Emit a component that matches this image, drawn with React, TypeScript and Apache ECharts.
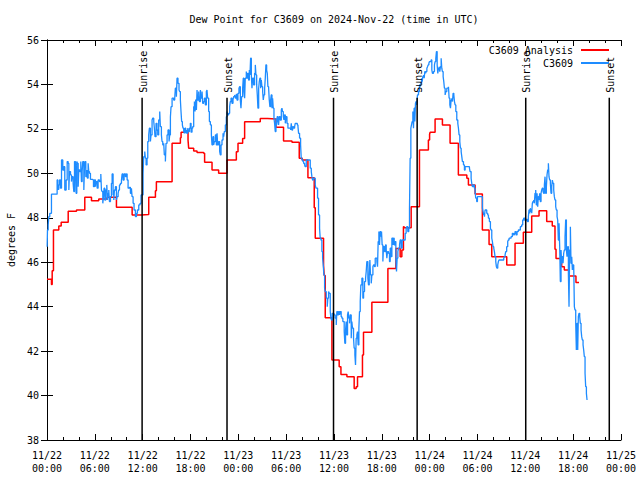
import React, { useEffect, useRef } from "react";
import * as echarts from "echarts";

const FONT = "'DejaVu Sans Mono', 'Liberation Mono', monospace";
const titleText = "Dew Point for C3609 on 2024-Nov-22 (time in UTC)";
const yAxisName = "degrees F";
const yMin = 38;
const yMax = 56;
const yStep = 2;
const xMinHours = 0;
const xMaxHours = 72;
const xStepHours = 6;
const startMonth = 11;
const startDay = 22;
const analysisName = "C3609 Analysis";
const observedName = "C3609";
const eventHours = [11.93, 22.58, 35.94, 46.43, 60.05, 70.53];
const eventLabels = ["Sunrise", "Sunset", "Sunrise", "Sunset", "Sunrise", "Sunset"];
const eventLineTop = 53.4;
const RED = "#ff0000";
const BLUE = "#1e8cff";

// [hours since 2024-11-22 00:00 UTC, dew point F]
const analysis: [number, number][] = [
  [0.0, 45.23], [0.56, 45.0], [0.65, 45.62], [0.81, 47.45], [1.48, 47.63], [1.78, 47.8], [2.66, 48.29], [3.7, 48.35],
  [4.74, 48.92], [5.58, 48.77], [6.49, 48.85], [7.54, 48.92], [8.71, 48.47], [10.68, 48.13], [11.8, 48.15], [12.76, 48.92],
  [13.6, 49.22], [13.72, 49.62], [15.69, 51.35], [16.73, 51.6], [16.82, 51.85], [17.69, 51.5], [17.77, 51.13], [18.4, 51.0],
  [18.82, 50.94], [19.65, 50.9], [19.77, 50.5], [20.7, 50.15], [21.53, 50.0], [22.58, 50.6], [23.75, 50.97], [23.96, 51.35],
  [24.54, 51.57], [24.79, 52.32], [26.75, 52.47], [27.67, 52.45], [28.72, 52.07], [29.67, 51.45], [30.73, 51.4], [31.64, 50.68],
  [32.02, 50.6], [32.73, 49.8], [33.52, 48.45], [33.65, 47.08], [34.69, 45.87], [34.77, 45.4], [34.9, 43.5], [35.74, 41.6],
  [36.65, 41.3], [36.87, 40.95], [37.62, 40.85], [38.53, 40.32], [38.78, 40.4], [38.95, 40.85], [39.57, 41.82], [39.7, 42.85],
  [40.75, 44.2], [42.76, 45.72], [43.76, 46.62], [44.3, 46.25], [44.51, 46.55], [44.71, 47.6], [44.8, 47.55], [45.68, 48.5],
  [46.72, 51.05], [47.84, 51.5], [47.99, 51.76], [48.06, 51.85], [48.68, 52.45], [49.6, 52.18], [50.56, 51.35], [51.6, 49.92],
  [52.66, 49.78], [52.86, 49.47], [53.7, 49.07], [54.61, 47.45], [55.45, 46.8], [55.79, 46.25], [57.67, 45.87], [58.71, 46.85],
  [59.75, 47.35], [60.8, 48.08], [61.72, 48.32], [62.68, 47.83], [63.38, 47.63], [63.72, 46.58], [63.85, 46.17], [64.56, 45.8],
  [64.89, 45.65], [65.51, 45.38], [66.35, 45.09], [66.73, 45.09],
];

const observed: [number, number][] = [
  [0.02, 46.7], [0.06, 47.45], [0.15, 47.68], [0.23, 48.05], [0.35, 48.2], [0.56, 49.06], [1.27, 49.7], [1.36, 49.28], [1.48, 49.48],
  [1.57, 49.7], [1.69, 49.33], [1.82, 50.6], [1.98, 50.15], [2.11, 50.3], [2.23, 49.25], [2.4, 49.7], [2.53, 50.53], [2.65, 50.45],
  [2.74, 49.25], [2.82, 50.08], [2.95, 49.93], [3.07, 49.63], [3.15, 49.85], [3.28, 49.55], [3.36, 49.18], [3.45, 50.53], [3.57, 50.38],
  [3.65, 49.1], [3.74, 50.53], [3.82, 50.45], [3.91, 49.4], [3.99, 50.15], [4.11, 50.08], [4.24, 50.53], [4.32, 49.63], [4.41, 50.08],
  [4.49, 50.53], [4.62, 49.25], [4.7, 50.23], [4.78, 50.53], [4.87, 49.85], [4.99, 50.15], [5.07, 49.78], [5.16, 50.45], [5.24, 50.08],
  [5.33, 50.0], [5.45, 49.73], [5.7, 49.7], [5.83, 49.4], [5.95, 49.7], [6.08, 49.4], [6.16, 49.63], [6.29, 49.33], [6.41, 49.7],
  [6.58, 49.63], [6.75, 49.97], [6.83, 49.25], [6.91, 49.18], [7.0, 48.65], [7.08, 48.95], [7.16, 49.33], [7.25, 48.8], [7.37, 49.25],
  [7.5, 49.48], [7.58, 48.8], [7.66, 49.1], [7.75, 49.25], [7.83, 48.73], [7.96, 48.95], [8.08, 49.55], [8.17, 49.97], [8.29, 49.03],
  [8.38, 48.8], [8.46, 49.25], [8.58, 49.4], [8.71, 48.8], [8.79, 48.95], [8.92, 49.1], [9.0, 49.25], [9.09, 49.48], [9.21, 49.55],
  [9.34, 49.7], [9.42, 49.97], [9.54, 49.7], [9.67, 49.97], [9.84, 49.85], [9.96, 49.97], [10.05, 49.7], [10.17, 49.33], [10.34, 49.37],
  [10.46, 49.1], [10.59, 49.33], [10.67, 48.95], [10.8, 48.65], [10.92, 48.35], [11.09, 48.05], [11.22, 48.2], [11.34, 48.35],
  [11.51, 48.58], [11.67, 48.65], [11.8, 49.03], [12.05, 50.0], [12.13, 50.75], [12.26, 50.98],
  [12.34, 50.68], [12.43, 50.38], [12.55, 50.68], [12.64, 51.43], [12.76, 51.73], [12.84, 52.03], [12.97, 51.43], [13.05, 51.73],
  [13.18, 52.4], [13.26, 52.48], [13.39, 52.33], [13.47, 52.03], [13.55, 51.65], [13.68, 52.25], [13.8, 51.95], [13.89, 51.73],
  [14.01, 52.4], [14.14, 52.78], [14.22, 52.1], [14.35, 51.73], [14.43, 51.43], [14.52, 51.28], [14.64, 51.35], [14.72, 50.83],
  [14.85, 50.53], [14.93, 51.35], [15.06, 51.73], [15.18, 51.95], [15.31, 51.43], [15.39, 51.73], [15.48, 52.55], [15.56, 53.0],
  [15.69, 53.38], [15.89, 53.3], [16.02, 53.38], [16.1, 53.83], [16.23, 53.45], [16.31, 54.28], [16.43, 54.05], [16.56, 53.75],
  [16.64, 53.68], [16.73, 53.3], [16.81, 52.78], [16.89, 52.33], [16.98, 52.18], [17.06, 52.03], [17.15, 51.88], [17.23, 51.8],
  [17.31, 52.03], [17.4, 51.8], [17.48, 51.95], [17.56, 51.8], [17.65, 52.03], [17.73, 51.88], [17.86, 52.03], [17.98, 52.25],
  [18.07, 51.85], [18.19, 52.03], [18.28, 52.1], [18.4, 53.0], [18.49, 53.23], [18.57, 52.78], [18.65, 53.3], [18.74, 52.85],
  [18.82, 53.75], [18.9, 53.3], [19.03, 53.68], [19.11, 53.23], [19.24, 53.75], [19.32, 53.38], [19.45, 53.68], [19.53, 53.15],
  [19.65, 53.23], [19.74, 53.38], [19.86, 53.08], [19.99, 53.68], [20.07, 53.75], [20.15, 53.38], [20.28, 52.78], [20.37, 52.33],
  [20.49, 52.18], [20.62, 51.73], [20.7, 51.28], [20.82, 51.65], [20.91, 51.28], [20.99, 51.43], [21.12, 51.73], [21.24, 51.28],
  [21.33, 51.8], [21.41, 51.28], [21.53, 51.43], [21.66, 50.98], [21.74, 50.83], [21.83, 51.28], [21.95, 51.5], [22.08, 51.8],
  [22.16, 51.65], [22.24, 51.88], [22.37, 52.18], [22.49, 52.55], [22.58, 52.78], [22.66, 52.63], [22.79, 52.7], [22.91, 53.0],
  [22.99, 53.23], [23.08, 53.38], [23.2, 53.15], [23.33, 53.3], [23.41, 53.45], [23.54, 53.53], [23.62, 53.38], [23.74, 53.55],
  [23.83, 53.3], [23.95, 53.6], [24.08, 53.83],
  [24.16, 53.9], [24.25, 53.3], [24.33, 52.93], [24.41, 53.45], [24.54, 53.83], [24.62, 54.28], [24.71, 53.68], [24.79, 53.38],
  [24.87, 54.28], [25.0, 54.58], [25.08, 54.28], [25.17, 54.5], [25.29, 54.2], [25.38, 54.65], [25.46, 54.43], [25.54, 55.18],
  [25.63, 54.43], [25.71, 53.83], [25.79, 54.28], [25.92, 53.98], [26.04, 54.5], [26.13, 54.88], [26.21, 54.43], [26.3, 53.98],
  [26.38, 53.53], [26.46, 52.93], [26.55, 53.83], [26.63, 54.13], [26.71, 54.28], [26.8, 53.83], [26.88, 54.2], [26.96, 53.9],
  [27.05, 53.68], [27.13, 53.3], [27.21, 53.53], [27.3, 53.83], [27.38, 54.28], [27.46, 54.88], [27.55, 54.65], [27.63, 54.5],
  [27.71, 53.9], [27.8, 53.83], [27.88, 53.3], [27.96, 53.0], [28.05, 53.3], [28.13, 53.53], [28.22, 52.93], [28.3, 53.38],
  [28.38, 52.93], [28.47, 52.48], [28.55, 52.25], [28.63, 51.88], [28.72, 52.48], [28.8, 52.18], [28.88, 52.55], [28.97, 52.4],
  [29.05, 52.18], [29.13, 52.55], [29.26, 52.4], [29.39, 52.85], [29.47, 52.93], [29.55, 52.78], [29.64, 52.55], [29.72, 52.4],
  [29.8, 52.63], [29.89, 52.25], [29.97, 52.55], [30.1, 52.25], [30.22, 52.03], [30.56, 51.95], [30.64, 52.25], [30.72, 51.95],
  [30.81, 52.1], [30.93, 52.03], [31.06, 52.1], [31.14, 52.25], [31.39, 52.18], [31.48, 52.1], [31.56, 51.8], [31.68, 51.58],
  [31.81, 51.28], [31.89, 50.68], [31.98, 50.6], [32.1, 50.53], [32.19, 50.45], [32.31, 50.38], [32.39, 50.3], [32.52, 50.6],
  [32.9, 50.6], [33.02, 50.23], [33.15, 50.08], [33.23, 49.85], [33.31, 49.7], [33.4, 49.78], [33.65, 49.48], [33.73, 49.33],
  [33.94, 48.88], [34.06, 48.13], [34.19, 47.53], [34.27, 47.08], [34.36, 47.0], [34.48, 46.48], [34.57, 46.18], [34.65, 45.88],
  [34.73, 45.43], [34.82, 44.83], [34.9, 44.68], [35.03, 44.38], [35.15, 44.0], [35.23, 44.38], [35.32, 44.68], [35.4, 44.6],
  [35.53, 43.78], [35.61, 43.48], [35.69, 43.4], [35.78, 43.7], [35.99, 43.63],
  [36.07, 43.63], [36.15, 43.48], [36.28, 43.18], [36.36, 43.78], [36.45, 43.63], [36.57, 43.78], [36.7, 43.63], [36.78, 43.78],
  [36.9, 43.55], [36.99, 43.48], [37.11, 43.33], [37.28, 42.88], [37.36, 42.35], [37.45, 42.95], [37.53, 43.33], [37.61, 42.73],
  [37.7, 43.63], [37.78, 43.78], [37.86, 43.48], [37.95, 43.25], [38.03, 43.63], [38.16, 42.58], [38.24, 43.33], [38.32, 43.03],
  [38.45, 42.58], [38.53, 42.13], [38.62, 41.83], [38.7, 41.38], [38.78, 42.58], [38.87, 42.73], [38.95, 42.88], [39.03, 42.28],
  [39.12, 43.03], [39.2, 43.78], [39.29, 44.23], [39.37, 44.98], [39.5, 45.28], [39.62, 44.38], [39.71, 44.68], [39.83, 45.13],
  [39.96, 45.28], [40.04, 45.58], [40.12, 46.03], [40.25, 45.28], [40.33, 44.98], [40.42, 45.43], [40.5, 46.1], [40.58, 45.43],
  [40.67, 45.05], [40.75, 45.43], [40.88, 45.8], [40.96, 45.88], [41.08, 45.8], [41.17, 46.18], [41.38, 46.03], [41.46, 45.8],
  [41.54, 46.93], [41.63, 47.38], [41.71, 46.78], [41.79, 47.38], [41.88, 47.15], [41.96, 47.38], [42.04, 46.78], [42.13, 46.03],
  [42.21, 46.7], [42.34, 46.48], [42.46, 46.78], [42.55, 46.55], [42.63, 46.18], [42.71, 46.48], [42.84, 46.4], [42.96, 46.03],
  [43.05, 46.63], [43.17, 46.25], [43.26, 47.08], [43.38, 46.78], [43.46, 47.08], [43.55, 46.78], [43.67, 46.93], [43.76, 46.18],
  [43.84, 45.58], [43.92, 46.18], [44.01, 46.48], [44.09, 46.63], [44.22, 46.78], [44.3, 47.0], [44.42, 46.63], [44.55, 47.0],
  [44.93, 47.3], [45.05, 47.53], [45.13, 47.6], [45.26, 47.38], [45.38, 47.53], [45.47, 48.43], [45.55, 50.68], [45.64, 52.03],
  [45.72, 52.18], [45.8, 52.33], [45.89, 52.78], [45.97, 52.03], [46.05, 52.93], [46.14, 52.33], [46.22, 53.15], [46.3, 53.23],
  [46.39, 53.08], [46.47, 53.53], [46.6, 53.68], [46.72, 53.98], [46.81, 53.9], [46.89, 54.05], [46.98, 54.28], [47.06, 54.13],
  [47.14, 54.35], [47.23, 54.43], [47.31, 54.28], [47.39, 54.58], [47.48, 54.5], [47.56, 54.58], [47.65, 54.73], [47.73, 54.8],
  [47.81, 54.88], [47.9, 54.95], [47.98, 55.03],
  [48.06, 55.03], [48.18, 55.1], [48.27, 54.65], [48.35, 54.5], [48.48, 54.58], [48.6, 54.88], [48.68, 55.03], [48.77, 55.18],
  [48.85, 55.48], [48.94, 54.88], [49.02, 54.5], [49.1, 54.73], [49.19, 54.8], [49.27, 54.58], [49.35, 54.8], [49.44, 55.18],
  [49.52, 54.73], [49.6, 54.58], [49.69, 54.35], [49.77, 54.13], [49.85, 53.83], [49.94, 53.53], [50.02, 53.68], [50.15, 53.83],
  [50.36, 53.9], [50.44, 53.38], [50.53, 53.08], [50.61, 52.93], [50.69, 53.3], [50.78, 53.38], [50.86, 53.23], [50.94, 53.6],
  [51.03, 53.53], [51.11, 53.23], [51.19, 53.08], [51.28, 52.78], [51.4, 52.4], [51.53, 52.25], [51.61, 52.03], [51.69, 51.73],
  [51.78, 51.43], [51.86, 51.13], [51.95, 50.98], [52.03, 50.75], [52.11, 50.53], [52.24, 50.38], [52.36, 50.15], [52.45, 50.3],
  [52.99, 50.23], [53.07, 50.08], [53.2, 49.78], [53.28, 49.55], [53.36, 49.4], [53.49, 49.48], [53.61, 49.33], [53.7, 49.18],
  [53.78, 48.88], [53.9, 48.73], [53.99, 48.95], [54.53, 48.95], [54.62, 48.43], [54.7, 48.28], [54.78, 48.13], [54.87, 48.05],
  [54.95, 48.35], [55.16, 48.2], [55.28, 48.13], [55.37, 47.98], [55.49, 47.83], [55.62, 47.53], [55.7, 47.45], [55.79, 47.08],
  [55.87, 46.93], [55.95, 46.7], [56.04, 46.63], [56.12, 46.48], [56.2, 46.25], [56.29, 46.03], [56.37, 45.8], [56.45, 45.73],
  [56.54, 45.88], [56.62, 46.03], [56.7, 46.1], [57.29, 46.18], [57.37, 46.25], [57.46, 46.33], [57.54, 46.48], [57.66, 46.7],
  [57.79, 46.93], [57.87, 47.0], [57.96, 47.08], [58.21, 47.15], [58.37, 47.3], [58.5, 47.23], [58.62, 47.3], [58.71, 47.38],
  [58.83, 47.23], [58.96, 47.38], [59.12, 47.45], [59.37, 47.6], [59.54, 47.68], [59.67, 47.9], [59.79, 47.98],
  [59.96, 47.87], [60.09, 47.93], [60.26, 47.83], [60.38, 48.05], [60.46, 48.35], [60.55, 48.2], [60.63, 48.43], [60.71, 48.28],
  [60.8, 48.2], [60.88, 48.65], [60.96, 48.73], [61.05, 48.8], [61.13, 48.65], [61.21, 49.1], [61.3, 49.25], [61.38, 48.58],
  [61.47, 49.1], [61.55, 48.5], [61.63, 48.95], [61.72, 48.8], [61.8, 49.1], [61.88, 48.73], [61.97, 49.1], [62.05, 49.25],
  [62.13, 49.33], [62.22, 49.18], [62.3, 49.1], [62.39, 49.48], [62.47, 49.85], [62.55, 49.1], [62.64, 49.4], [62.72, 49.93],
  [62.8, 50.15], [62.89, 50.45], [62.97, 49.85], [63.05, 49.7], [63.14, 49.55], [63.22, 49.1], [63.31, 49.4], [63.39, 49.7],
  [63.47, 49.55], [63.56, 49.25], [63.64, 48.95], [63.72, 48.8], [63.81, 48.5], [63.89, 48.35], [63.98, 48.05], [64.06, 47.9],
  [64.14, 47.0], [64.23, 47.75], [64.31, 46.7], [64.39, 45.13], [64.48, 46.55], [64.56, 45.95], [64.64, 46.25], [64.73, 45.95],
  [64.81, 46.4], [64.89, 46.55], [64.98, 47.15], [65.06, 47.9], [65.15, 46.55], [65.23, 46.25], [65.31, 46.7], [65.4, 45.5],
  [65.48, 44.0], [65.56, 46.55], [65.65, 47.6], [65.73, 45.95], [65.82, 46.25], [65.9, 45.65], [65.98, 45.88], [66.07, 45.8],
  [66.15, 44.0], [66.23, 43.85], [66.32, 43.25], [66.4, 42.05], [66.48, 43.25], [66.57, 42.05], [66.65, 43.55], [66.73, 43.7],
  [66.82, 43.55], [66.9, 43.25], [66.99, 42.95], [67.07, 42.65], [67.15, 42.5], [67.24, 42.28], [67.32, 42.05], [67.4, 41.75],
  [67.49, 41.0], [67.57, 40.4], [67.66, 40.1], [67.74, 39.8], [67.8, 39.8],
];

const pad2 = (n: number) => (n < 10 ? "0" + n : "" + n);
const formatHourLabel = (v: number) => {
  const day = startDay + Math.floor(v / 24);
  const hr = Math.round(v % 24);
  return `${startMonth}/${day}\n${pad2(hr)}:00`;
};

export default function App() {
  const ref = useRef<HTMLDivElement>(null);
  useEffect(() => {
    if (!ref.current) return;
    const chart = echarts.init(ref.current, undefined, { renderer: "svg" });
    const axisLine = { show: true, lineStyle: { color: "#000", width: 1 } };
    const tickStyle = { color: "#000", width: 1 };
    const labelFont = { fontFamily: FONT, fontSize: 10, color: "#000" };
    const xCommon = {
      type: "value",
      min: xMinHours,
      max: xMaxHours,
      interval: xStepHours,
      axisLine,
      axisTick: { show: true, inside: true, length: 6, lineStyle: tickStyle },
      minorTick: { show: true, splitNumber: 3, length: 3, lineStyle: tickStyle },
      splitLine: { show: false },
      minorSplitLine: { show: false },
    };
    const yCommon = {
      type: "value",
      min: yMin,
      max: yMax,
      interval: yStep,
      axisLine,
      axisTick: { show: true, inside: true, length: 6, lineStyle: tickStyle },
      splitLine: { show: false },
    };
    const option: any = {
      animation: false,
      backgroundColor: "#ffffff",
      textStyle: { fontFamily: FONT },
      graphic: [
        {
          type: "text",
          x: 334,
          y: 19,
          style: {
            text: titleText,
            font: `10px ${FONT}`,
            fill: "#000",
            align: "center",
            verticalAlign: "middle",
            textAlign: "center",
            textVerticalAlign: "middle",
          },
        },
      ],
      grid: { left: 47, right: 19, top: 40, bottom: 40, containLabel: false, outerBoundsMode: "none" },
      legend: {
        data: [analysisName, observedName],
        orient: "vertical",
        right: 30,
        top: 44,
        align: "right",
        itemWidth: 28,
        itemHeight: 12,
        itemGap: 1,
        padding: 0,
        selectedMode: false,
        itemStyle: { opacity: 0 },
        textStyle: { ...labelFont, padding: [0, 3, 0, 0], lineHeight: 12 },
      },
      xAxis: [
        {
          ...xCommon,
          position: "bottom",
          axisLabel: { ...labelFont, margin: 9, lineHeight: 13, formatter: formatHourLabel },
        },
        { ...xCommon, position: "top", axisLabel: { show: false } },
      ],
      yAxis: [
        {
          ...yCommon,
          position: "left",
          name: yAxisName,
          nameLocation: "middle",
          nameRotate: 90,
          nameGap: 31,
          nameTextStyle: labelFont,
          axisLabel: { ...labelFont, margin: 8 },
        },
        { ...yCommon, position: "right", axisLabel: { show: false } },
      ],
      series: [
        {
          name: analysisName,
          type: "line",
          step: "end",
          data: analysis,
          symbol: "none",
          lineStyle: { color: RED, width: 1.5 },
          itemStyle: { color: RED },
          z: 2,
        },
        {
          name: observedName,
          type: "line",
          step: "end",
          data: observed,
          symbol: "none",
          lineStyle: { color: BLUE, width: 1.3 },
          itemStyle: { color: BLUE },
          z: 3,
        },
        {
          type: "custom",
          silent: true,
          z: 4,
          data: eventHours.map((h, i) => [h, i]),
          renderItem: (_params: any, api: any) => {
            const h = api.value(0);
            const idx = api.value(1);
            const top = api.coord([h, eventLineTop]);
            const bot = api.coord([h, yMin]);
            return {
              type: "group",
              children: [
                {
                  type: "line",
                  shape: { x1: top[0], y1: top[1], x2: bot[0], y2: bot[1] },
                  style: { stroke: "#000", lineWidth: 1.5 },
                },
                {
                  type: "text",
                  x: top[0] + 1,
                  y: top[1] - 5,
                  rotation: Math.PI / 2,
                  style: {
                    text: eventLabels[idx],
                    font: `10px ${FONT}`,
                    fill: "#000",
                    align: "left",
                    verticalAlign: "middle",
                    textAlign: "left",
                    textVerticalAlign: "middle",
                  },
                },
              ],
            };
          },
        },
      ],
    };
    chart.setOption(option);
    return () => chart.dispose();
  }, []);
  return (
    <div
      ref={ref}
      style={{ position: "fixed", left: 0, top: 0, width: 640, height: 480, background: "#fff" }}
    />
  );
}
